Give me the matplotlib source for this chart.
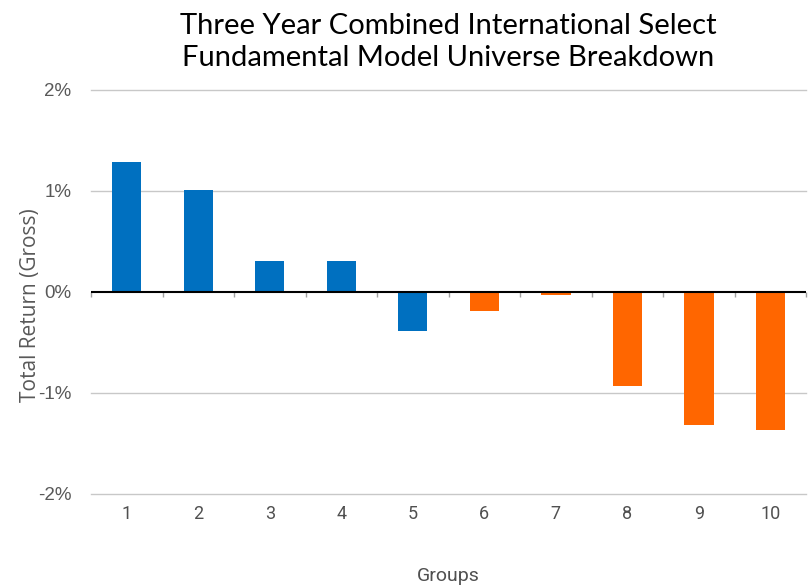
import numpy as np
import matplotlib.pyplot as plt
from matplotlib.ticker import FuncFormatter

# Total return by group (percent)
groups  = ['1', '2', '3', '4', '5', '6', '7', '8', '9', '10']
returns = [1.29, 1.01, 0.31, 0.31, -0.39, -0.19, -0.03, -0.93, -1.32, -1.37]
colors  = ['#0070C0'] * 5 + ['#FF6600'] * 5

fig = plt.figure(figsize=(8.09, 5.88), dpi=100)
ax = fig.add_axes([0.1125, 0.16, 0.884, 0.687])

x = np.arange(len(groups))
ax.bar(x, returns, width=0.41, color=colors, zorder=3)

ax.set_xlim(-0.5, len(groups) - 0.5)
ax.set_ylim(-2, 2)
ax.set_yticks([-2, -1, 0, 1, 2])
ax.yaxis.set_major_formatter(FuncFormatter(lambda v, _: f'{v:.0f}%'))
for yv in [-2, -1, 1, 2]:
    ax.axhline(yv, color='#C8C8C8', lw=1, zorder=0, clip_on=False)
ax.axhline(0, color='black', lw=1.5, zorder=4)

# small grey ticks under the zero line between groups
bounds = np.arange(len(groups) + 1) - 0.5
ax.vlines(bounds, -0.055, 0, color='#A0A0A0', lw=1, zorder=2, clip_on=False)

for s in ax.spines.values():
    s.set_visible(False)
ax.tick_params(length=0)
ax.set_xticks(x)
ax.set_xticklabels(groups, family=['Roboto', 'DejaVu Sans'],
                   fontsize=13, color='#505050')
ax.tick_params(axis='x', pad=8)
for lab in ax.get_yticklabels():
    lab.set_family('Liberation Sans')
    lab.set_fontsize(13.5)
    lab.set_color('#595959')
ax.tick_params(axis='y', pad=14)

ax.set_xlabel('Groups', family=['Roboto', 'DejaVu Sans'],
              fontsize=14, color='#505050', labelpad=32)
ax.set_ylabel('Total Return (Gross)', family='Open Sans', fontsize=15,
              color='#595959')
ax.yaxis.set_label_coords(-0.07, 0.468)

ax.set_title('Three Year Combined International Select\n'
             'Fundamental Model Universe Breakdown',
             family='Lato', fontsize=21, color='black', pad=17, linespacing=1.3)

plt.savefig('out.png', dpi=100)
